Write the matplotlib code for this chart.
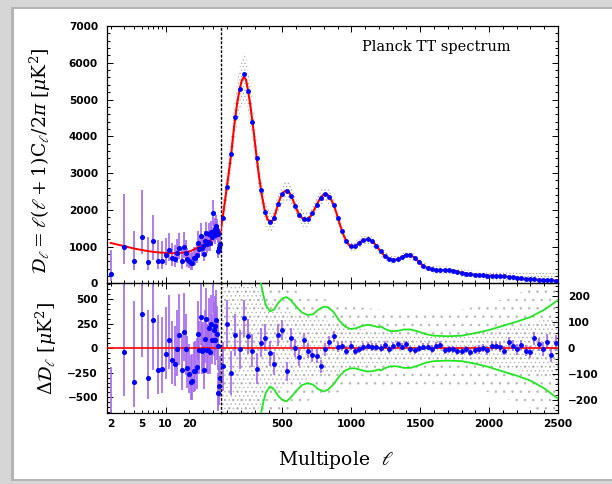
import numpy as np
import matplotlib
matplotlib.use('Agg')
import matplotlib.pyplot as plt
from matplotlib.ticker import FixedLocator, MultipleLocator, NullFormatter, FuncFormatter
from matplotlib.patches import Rectangle

plt.rcParams['mathtext.fontset'] = 'dejavuserif'
plt.rcParams['hatch.linewidth'] = 0.5

# ---------------- data ----------------
# low-ell (2..49) unbinned points
low_ell = [2, 3, 4, 5, 6, 7, 8, 9, 10, 11, 12, 13, 14, 15, 16, 17, 18, 19, 20, 21, 22, 23, 24, 25,
           26, 27, 28, 29, 30, 31, 32, 33, 34, 35, 36, 37, 38, 39, 40, 41, 42, 43, 44, 45, 46, 47, 48, 49]
low_D = [264, 975, 605, 1250, 570, 1140, 620, 615, 770, 910, 700, 660, 812, 955, 610, 1000, 830, 650,
         610, 540, 565, 680, 700, 760, 1100, 940, 1300, 960, 1020, 810, 1140, 1360, 1060, 1110, 1340,
         1100, 1400, 1250, 1900, 1390, 1310, 1480, 1560, 1450, 1330, 870, 960, 1080]
low_resid = [-834, -40, -340, 345, -305, 285, -222, -217, -56, 88, -120, -160, -9, 132, -218, 166, -12,
             -200, -260, -345, -335, -235, -230, -195, 145, -22, 322, -34, -20, -218, 94, 296, -22, -20,
             210, -36, 246, 78, 690, 180, 80, 230, 290, 140, 20, -455, -385, -300]
low_err_lo = [200, 450, 255, 440, 215, 510, 240, 235, 260, 300, 240, 230, 270, 300, 210, 300, 260, 210,
              200, 180, 190, 210, 210, 220, 270, 240, 290, 230, 240, 200, 250, 280, 230, 240, 270, 230,
              270, 240, 330, 260, 250, 270, 280, 260, 240, 180, 190, 200]
low_err_hi = [640, 1450, 820, 1300, 690, 710, 560, 530, 470, 450, 400, 390, 400, 420, 350, 400, 360, 320,
              300, 280, 280, 300, 300, 300, 330, 300, 340, 280, 290, 250, 290, 320, 270, 270, 300, 260,
              300, 270, 370, 290, 270, 300, 300, 290, 260, 200, 210, 220]

# best-fit model curve
model_low_ell = [2, 3, 4, 5, 6, 7, 8, 10, 12, 14, 17, 20, 25, 30, 35, 40, 45, 50]
model_low_D = [1098, 1010, 945, 905, 875, 855, 842, 826, 820, 821, 834, 860, 955, 1040, 1130, 1215, 1310, 1400]
model_hi_ell = [50, 70, 90, 110, 130, 150, 170, 190, 205, 220, 235, 250, 270, 290, 310, 330, 350, 370, 390,
                410, 430, 450, 470, 490, 510, 530, 550, 570, 590, 610, 630, 650, 670, 690, 710, 730, 750,
                770, 790, 810, 830, 850, 870, 890, 910, 930, 950, 970, 990, 1010, 1030, 1060, 1090, 1120,
                1150, 1180, 1210, 1240, 1270, 1300, 1330, 1360, 1390, 1420, 1450, 1480, 1510, 1540, 1570,
                1600, 1650, 1700, 1740, 1780, 1820, 1860, 1900, 1950, 2000, 2050, 2100, 2150, 2200, 2250,
                2300, 2350, 2400, 2450, 2500]
model_hi_D = [1400, 1900, 2450, 3000, 3600, 4300, 4880, 5300, 5520, 5615, 5540, 5250, 4750, 4150, 3500,
              2900, 2400, 2000, 1750, 1660, 1720, 1920, 2180, 2380, 2490, 2520, 2470, 2320, 2130, 1950,
              1820, 1750, 1730, 1760, 1860, 2000, 2150, 2290, 2390, 2430, 2400, 2300, 2150, 1930, 1680,
              1450, 1250, 1100, 1010, 990, 1020, 1110, 1180, 1200, 1150, 1030, 880, 750, 670, 640, 650,
              700, 760, 780, 720, 620, 510, 430, 390, 370, 360, 355, 340, 310, 275, 245, 228, 215, 210,
              205, 195, 175, 150, 125, 110, 100, 88, 78, 70]

# binned high-ell points (delta ell = 31)
bin_ell = [65, 96, 127, 158, 189, 220, 251, 282, 313, 344, 375, 406, 437, 468, 499, 530, 561, 592, 623,
           654, 685, 716, 747, 778, 809, 840, 871, 902, 933, 964, 995, 1026, 1057, 1088, 1119, 1150, 1181,
           1212, 1243, 1274, 1305, 1336, 1367, 1398, 1429, 1460, 1491, 1522, 1553, 1584, 1615, 1646, 1677,
           1708, 1739, 1770, 1801, 1832, 1863, 1894, 1925, 1956, 1987, 2018, 2049, 2080, 2111, 2142, 2173,
           2204, 2235, 2266, 2297, 2328, 2359, 2390, 2421, 2452, 2483]
bin_D = [1775, 2615, 3510, 4530, 5280, 5690, 5225, 4390, 3410, 2550, 1940, 1680, 1790, 2155, 2430, 2520,
         2385, 2110, 1865, 1746, 1752, 1900, 2128, 2330, 2430, 2350, 2140, 1780, 1420, 1145, 1005, 1014,
         1100, 1175, 1200, 1150, 1025, 870, 742, 666, 642, 660, 714, 765, 762, 687, 580, 478, 413, 380,
         367, 361, 357, 352, 340, 318, 292, 266, 244, 230, 221, 214, 211, 208, 205, 199, 191, 178, 163,
         148, 132, 120, 111, 104, 98, 90, 84, 77, 73]
bin_resid = [-70, 95, -95, 50, -5, 115, 45, -10, -80, 20, 40, -20, -60, 50, 70, -90, 40, 0, -35, 30, -10,
             -25, -30, -70, -5, 25, 45, 5, 10, -10, 10, -10, -5, 5, 10, 5, 3, 0, 12, -5, 8, 15, 5, 15, -5,
             -8, 0, 5, 5, -3, 10, 12, -8, -5, -5, -10, -12, -5, -15, -8, -5, 0, -8, 10, 8, 5, -10, 25, 10,
             -5, 12, -10, -15, 38, 15, -5, 25, -25, 20]
bin_err = [95, 90, 85, 80, 75, 72, 68, 64, 60, 56, 52, 48, 45, 42, 40, 38, 36, 34, 32, 30, 28, 27, 26, 25,
           24, 23, 22, 20, 19, 18, 16, 16, 15, 15, 15, 15, 15, 15, 14, 14, 14, 14, 14, 14, 14, 14, 14, 14,
           14, 14, 14, 14, 14, 14, 15, 15, 15, 15, 15, 16, 16, 16, 17, 17, 17, 18, 18, 19, 20, 20, 21, 22,
           23, 24, 25, 27, 28, 30, 32]

# envelope of the unbinned high-ell scatter (upper panel)
cloud_ell = [50, 75, 100, 125, 150, 175, 200, 220, 240, 260, 280, 300, 330, 360, 390, 420, 450, 480, 510,
             540, 570, 600, 630, 660, 690, 720, 750, 780, 810, 840, 870, 900, 930, 960, 990, 1020, 1060,
             1100, 1140, 1180, 1220, 1260, 1300, 1350, 1400, 1450, 1500, 1550, 1600, 1700, 1800, 1900,
             2000, 2100, 2200, 2300, 2400, 2500]
cloud_hi = [1750, 2440, 3170, 3950, 4850, 5590, 6100, 6265, 6070, 5580, 4970, 4280, 3300, 2550, 2050, 1970,
            2200, 2560, 2770, 2780, 2580, 2280, 2050, 1960, 1970, 2140, 2360, 2550, 2640, 2550, 2340, 1985,
            1610, 1325, 1150, 1145, 1245, 1320, 1297, 1160, 965, 820, 750, 790, 872, 822, 647, 517, 470,
            455, 388, 338, 330, 325, 300, 280, 278, 290]
cloud_lo = [1050, 1640, 2270, 2950, 3750, 4390, 4800, 4965, 4830, 4420, 3930, 3380, 2500, 1850, 1450, 1410,
            1640, 2000, 2210, 2220, 2060, 1800, 1590, 1520, 1550, 1720, 1940, 2130, 2220, 2150, 1960, 1625,
            1290, 1025, 870, 865, 975, 1055, 1037, 900, 709, 574, 530, 576, 662, 618, 447, 317, 270, 255,
            180, 118, 90, 65, 0, -60, -100, -150]

# residual scatter half-widths (lower panel, right axis units)
rcloud_ell = [50, 300, 400, 500, 600, 700, 800, 900, 1000, 1200, 1400, 1600, 1800, 2000, 2200, 2400, 2500]
rcloud_wide = [500, 400, 300, 250, 220, 200, 190, 170, 160, 150, 140, 140, 150, 170, 210, 250, 260]
rcloud_core = [400, 250, 180, 150, 130, 120, 110, 95, 80, 65, 55, 50, 55, 65, 85, 110, 125]

# green curves (lower panel)
green_ell = [300, 330, 345, 360, 380, 410, 440, 470, 500, 530, 560, 600, 640, 680, 720, 760, 800, 830, 870,
             910, 950, 990, 1030, 1080, 1120, 1160, 1200, 1215, 1240, 1280, 1330, 1380, 1430, 1480, 1540,
             1600, 1700, 1800, 1900, 2000, 2100, 2200, 2300, 2400, 2500]
green_up = [400, 290, 245, 205, 165, 142, 150, 175, 192, 197, 185, 160, 138, 128, 130, 148, 160, 158, 140,
            108, 85, 74, 76, 86, 90, 86, 80, 84, 75, 66, 66, 72, 72, 65, 54, 48, 46, 48, 58, 70, 86, 102,
            120, 148, 185]
green_dn = [-400, -300, -250, -210, -170, -148, -160, -185, -200, -205, -190, -165, -143, -135, -140, -158,
            -167, -160, -140, -110, -88, -78, -78, -86, -90, -88, -82, -86, -78, -70, -70, -76, -76, -68,
            -56, -50, -48, -50, -60, -73, -90, -106, -125, -155, -195]

# ---------------- styling ----------------
BLUE = '#0000ff'
PURPLE = '#a366f0'
RED = '#ff0000'
GREEN = '#22e622'
GRAY = '#b4b4b4'
GRAY_UP = '#a2a2a2'
TICKFONT = dict(family='DejaVu Sans', weight='bold', size=7.6)

W, H = 612, 484
fig = plt.figure(figsize=(W / 100, H / 100), dpi=100)
fig.patch.set_facecolor('#d6d6d6')
fig.patches.append(Rectangle((11 / W, 1 - 481 / H), 1, (481 - 7) / H, transform=fig.transFigure,
                             facecolor='#b4b4b4', edgecolor='none', zorder=-20))
fig.patches.append(Rectangle((14 / W, 1 - 479 / H), 1, (479 - 9) / H, transform=fig.transFigure,
                             facecolor='white', edgecolor='none', zorder=-10))

xL, xM, xR = 107 / W, 220.5 / W, 558 / W
yT, yM, yB = 1 - 26 / H, 1 - 283.3 / H, 1 - 413 / H

ax_ul = fig.add_axes([xL, yM, xM - xL, yT - yM])
ax_ur = fig.add_axes([xM, yM, xR - xM, yT - yM])
ax_ll = fig.add_axes([xL, yB, xM - xL, yM - yB])
ax_lr = fig.add_axes([xM, yB, xR - xM, yM - yB])

for ax in (ax_ul, ax_ur, ax_ll, ax_lr):
    ax.set_facecolor('none')
    for s in ax.spines.values():
        s.set_linewidth(0.9)
    ax.tick_params(which='both', direction='in', top=True, bottom=True, width=0.7, pad=4.5)
    ax.tick_params(which='major', length=4.5)
    ax.tick_params(which='minor', length=2.3)

# dotted boundary at ell = 50
for ax in (ax_ul, ax_ll):
    ax.spines['right'].set_visible(False)
    ax.set_xscale('log')
    ax.set_xlim(1.8, 50)
    ax.tick_params(which='both', left=True, right=False)
for ax in (ax_ur, ax_lr):
    ax.spines['left'].set_linestyle((0, (1, 2.2)))
    ax.spines['left'].set_linewidth(1.0)
    ax.set_xlim(50, 2500)
    ax.tick_params(which='both', left=False, right=True)
    ax.xaxis.set_major_locator(MultipleLocator(500))
    ax.xaxis.set_minor_locator(MultipleLocator(100))

log_minor = [2, 3, 4, 5, 6, 7, 8, 9, 20, 30, 40]
for ax in (ax_ul, ax_ll):
    ax.xaxis.set_major_locator(FixedLocator([10]))
    ax.xaxis.set_minor_locator(FixedLocator(log_minor))

# upper panel y
for ax in (ax_ul, ax_ur):
    ax.set_ylim(0, 7000)
    ax.yaxis.set_major_locator(MultipleLocator(1000))
    ax.yaxis.set_minor_locator(MultipleLocator(200))
    ax.xaxis.set_major_formatter(NullFormatter())
    ax.xaxis.set_minor_formatter(NullFormatter())
ax_ur.yaxis.set_major_formatter(NullFormatter())
ax_ul.tick_params(axis='y', pad=6.5)

# lower panel y
ax_ll.set_ylim(-660, 660)
ax_ll.yaxis.set_major_locator(FixedLocator([-500, -250, 0, 250, 500]))
ax_ll.yaxis.set_minor_locator(MultipleLocator(50))
ax_ll.tick_params(axis='y', pad=6.5)
ax_lr.set_ylim(-250, 250)
ax_lr.yaxis.set_major_locator(MultipleLocator(100))
ax_lr.yaxis.set_minor_locator(MultipleLocator(20))
ax_lr.yaxis.tick_right()
ax_lr.tick_params(which='both', left=False, right=True, labelright=True, labelleft=False)
ax_lr.tick_params(axis='y', pad=7)
ax_lr.yaxis.set_major_formatter(FuncFormatter(lambda v, p: '0' if abs(v) < 1e-9 else ('%d' % v).replace('-', '\u2212')))

ax_ll.xaxis.set_major_formatter(FuncFormatter(lambda v, p: '%d' % v))
ax_ll.xaxis.set_minor_formatter(FuncFormatter(lambda v, p: '%d' % v if int(round(v)) in (2, 5, 20) else ''))
ax_lr.xaxis.set_major_formatter(FuncFormatter(lambda v, p: '' if v < 100 else '%d' % v))

for ax in (ax_ul, ax_ur, ax_ll, ax_lr):
    for lab in ax.get_xticklabels(which='both') + ax.get_yticklabels(which='both'):
        lab.set_fontproperties(matplotlib.font_manager.FontProperties(**TICKFONT))

# ---------------- drawing ----------------
# scatter clouds as dotted hatch bands
ax_ur.fill_between(cloud_ell, cloud_lo, cloud_hi, facecolor='none', edgecolor=GRAY_UP,
                   hatch='.....', linewidth=0, zorder=1)
ax_lr.fill_between(rcloud_ell, [-w for w in rcloud_wide], rcloud_wide, facecolor='none', edgecolor=GRAY,
                   hatch='..', linewidth=0, zorder=1)
ax_lr.fill_between(rcloud_ell, [-w for w in rcloud_core], rcloud_core, facecolor='none', edgecolor=GRAY,
                   hatch='....', linewidth=0, zorder=1)

# upper panel
ax_ul.errorbar(low_ell, low_D, yerr=[low_err_lo, low_err_hi], fmt='none', ecolor=PURPLE,
               elinewidth=1.2, capsize=0, zorder=2)
ax_ul.plot(model_low_ell, model_low_D, color=RED, lw=1.4, zorder=3)
ax_ul.plot(low_ell, low_D, 'o', color=BLUE, ms=3.7, mec='none', zorder=4, clip_on=False)
ax_ur.plot(model_hi_ell, model_hi_D, color=RED, lw=1.5, zorder=3)
ax_ur.plot(bin_ell, bin_D, 'o', color=BLUE, ms=3.5, mec='none', zorder=4)

# lower panel
ax_ll.errorbar(low_ell, low_resid, yerr=[low_err_lo, low_err_hi], fmt='none', ecolor=PURPLE,
               elinewidth=1.2, capsize=0, zorder=2)
ax_ll.axhline(0, color=RED, lw=1.2, zorder=3)
ax_ll.plot(low_ell, low_resid, 'o', color=BLUE, ms=3.7, mec='none', zorder=4)
ax_lr.errorbar(bin_ell, bin_resid, yerr=bin_err, fmt='none', ecolor=PURPLE, elinewidth=1.2,
               capsize=0, zorder=2)
ax_lr.axhline(0, color=RED, lw=1.2, zorder=3)
ax_lr.plot(green_ell, green_up, color=GREEN, lw=1.3, zorder=3)
ax_lr.plot(green_ell, green_dn, color=GREEN, lw=1.3, zorder=3)
ax_lr.plot(bin_ell, bin_resid, 'o', color=BLUE, ms=3.5, mec='none', zorder=4)

# ---------------- text ----------------
ax_ur.text(0.6385, 0.918, 'Planck TT spectrum', transform=ax_ur.transAxes, ha='center', va='center',
           family='DejaVu Serif', fontsize=10.5)
fig.text(336 / W, 1 - 460 / H, r'Multipole  $\ell$', ha='center', va='center',
         family='DejaVu Serif', fontsize=13.5)
fig.text(40 / W, 1 - 161 / H, r'$\mathcal{D}_\ell = \ell(\ell+1)\mathrm{C}_\ell/2\pi\ [\mu\mathrm{K}^2]$',
         rotation=90, ha='center', va='center', fontsize=13.5)
fig.text(46 / W, 1 - 348 / H, r'$\Delta\mathcal{D}_\ell\ [\mu\mathrm{K}^2]$',
         rotation=90, ha='center', va='center', fontsize=13.5)

fig.savefig('out.png', dpi=100, facecolor=fig.get_facecolor())
